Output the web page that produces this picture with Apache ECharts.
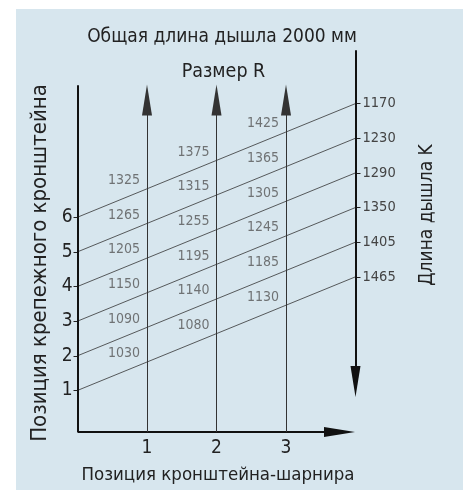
<!DOCTYPE html>
<html>
<head>
<meta charset="utf-8">
<script src="https://cdn.jsdelivr.net/npm/echarts@6/dist/echarts.min.js"></script>
<style>
html, body {margin:0; padding:0; background:#fff;}
#chart {position:absolute; left:16px; top:9px; width:447px; height:481px; background:#d7e6ee;}
</style>
</head>
<body>
<div id="chart"></div>
<script>
//data
let positions = [1, 2, 3, 4, 5, 6];                     // bracket position (left scale)
let kLength = [1465, 1405, 1350, 1290, 1230, 1170];     // drawbar length K at right end
let hinge = [1, 2, 3];                                  // hinge bracket position
let sizeCol1 = [1030, 1090, 1150, 1205, 1265, 1325];    // size R, column 1
let sizeCol2 = [1080, 1140, 1195, 1255, 1315, 1375];    // size R, column 2
let sizeCol3 = [1130, 1185, 1245, 1305, 1365, 1425];    // size R, column 3
let rise = 3.28;                                        // climb of each line from 0 to 4

let FONT = "'Liberation Sans Narrow','DejaVu Sans Condensed',sans-serif";
let chart = echarts.init(document.getElementById('chart'));

let lineEnds = positions.map(p => p + rise);

//line series
let series = positions.map(function (p, i) {
    return {
        type: 'line',
        data: [[0, p], [4, lineEnds[i]]],
        symbol: 'none',
        silent: true,
        lineStyle: {color: '#333', width: 0.8},
        z: 3
    };
});

//size labels above the lines
let cols = [sizeCol1, sizeCol2, sizeCol3];
let labelData = [];
cols.forEach(function (col, c) {
    let x = hinge[c] - 0.1;
    col.forEach(function (v, i) {
        labelData.push([x, positions[i] + rise / 4 * x + 0.32, v]);
    });
});
series.push({
    type: 'scatter',
    data: labelData,
    symbolSize: 0,
    silent: true,
    label: {
        show: true,
        position: 'left',
        distance: 0,
        formatter: p => p.value[2],
        fontFamily: FONT,
        fontSize: 14,
        color: '#555'
    }
});

//axes with arrows
let arrow = {symbol: 'triangle', symbolSize: [10, 31]};
let axisLines = [
    [{coord: [0, -0.2], symbol: 'none'}, {coord: [0, 9.81], symbol: 'none'}],
    [{coord: [0, -0.2], symbol: 'none'}, Object.assign({coord: [3.77, -0.2]}, arrow)],
    [{coord: [4, 10.82], symbol: 'none'}, Object.assign({coord: [4, 1.26]}, arrow)]
];
let hingeLines = hinge.map(h => [{coord: [h, -0.2], symbol: 'none'}, Object.assign({coord: [h, 9.38]}, arrow)]);

series.push({
    type: 'line',
    data: [],
    markLine: {
        silent: true,
        animation: false,
        label: {show: false},
        lineStyle: {color: '#111', width: 2, type: 'solid'},
        data: axisLines
    }
});
series.push({
    type: 'line',
    data: [],
    markLine: {
        silent: true,
        animation: false,
        label: {show: false},
        lineStyle: {color: '#333', width: 1, type: 'solid'},
        data: hingeLines
    }
});

let option = {
    animation: false,
    grid: {left: 61.5, right: 107.5, top: 35, bottom: 58},
    xAxis: {
        type: 'value', min: 0, max: 4,
        axisLine: {show: false},
        axisTick: {show: false},
        splitLine: {show: false},
        axisLabel: {customValues: hinge, margin: 7, fontFamily: FONT, fontSize: 19, color: '#222'}
    },
    yAxis: [{
        type: 'value', min: -0.2, max: 11,
        axisLine: {show: false},
        splitLine: {show: false},
        axisTick: {show: true, customValues: positions, length: 4, lineStyle: {color: '#222'}},
        axisLabel: {customValues: positions, margin: 5, fontFamily: FONT, fontSize: 19, color: '#222'}
    }, {
        type: 'value', min: -0.2, max: 11, position: 'right',
        axisLine: {show: false},
        splitLine: {show: false},
        axisTick: {show: true, customValues: lineEnds, length: 5, lineStyle: {color: '#222'}},
        axisLabel: {
            customValues: lineEnds, margin: 7, fontFamily: FONT, fontSize: 14.5, color: '#444',
            formatter: function (v) {
                let i = lineEnds.findIndex(e => Math.abs(e - v) < 1e-6);
                return i < 0 ? '' : kLength[i];
            }
        }
    }],
    graphic: [
        {type: 'text', x: 206, y: 28, style: {text: 'Общая длина дышла 2000 мм', font: '19px ' + FONT, fill: '#222', align: 'center', verticalAlign: 'middle'}},
        {type: 'text', x: 207.5, y: 63, style: {text: 'Размер R', font: '19.5px ' + FONT, fill: '#222', align: 'center', verticalAlign: 'middle'}},
        {type: 'text', x: 24, y: 254, rotation: Math.PI / 2, style: {text: 'Позиция крепежного кронштейна', font: '22px ' + FONT, fill: '#222', align: 'center', verticalAlign: 'middle'}},
        {type: 'text', x: 410.7, y: 206, rotation: Math.PI / 2, style: {text: 'Длина дышла K', font: '19px ' + FONT, fill: '#222', align: 'center', verticalAlign: 'middle'}},
        {type: 'text', x: 202, y: 466, style: {text: 'Позиция кронштейна-шарнира', font: '18.5px ' + FONT, fill: '#222', align: 'center', verticalAlign: 'middle'}}
    ],
    series: series
};

chart.setOption(option);
</script>
</body>
</html>
